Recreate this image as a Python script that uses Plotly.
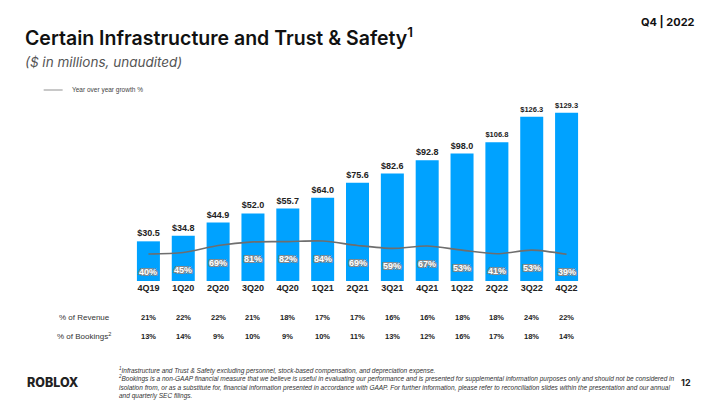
import plotly.graph_objects as go

quarters = ["4Q19", "1Q20", "2Q20", "3Q20", "4Q20", "1Q21", "2Q21", "3Q21",
            "4Q21", "1Q22", "2Q22", "3Q22", "4Q22"]
spend = [30.5, 34.8, 44.9, 52.0, 55.7, 64.0, 75.6, 82.6, 92.8, 98.0, 106.8, 126.3, 129.3]
yoy_growth = [40, 45, 69, 81, 82, 84, 69, 59, 67, 53, 41, 53, 39]
pct_revenue = [21, 22, 22, 21, 18, 17, 17, 16, 16, 18, 18, 24, 22]
pct_bookings = [13, 14, 9, 10, 9, 10, 11, 13, 12, 16, 17, 18, 14]

BLUE = "#00A2FF"
FONT = "Liberation Sans"
TITLE_FONT = "Inter"

W, H = 720, 405
L, R, T, B = 130.5, 135.6, 100, 124
plot_h = H - T - B

fig = go.Figure()
fig.add_trace(go.Bar(
    x=quarters, y=spend, marker_color=BLUE, marker_line_width=0,
    texttemplate="$%{y:.1f}", textposition="outside",
    textfont=dict(family=FONT, size=9, color="#222", weight=700),
    cliponaxis=False, showlegend=False, hoverinfo="skip",
))
fig.add_trace(go.Scatter(
    x=quarters, y=yoy_growth, yaxis="y2", mode="lines",
    line=dict(color="#6e6e6e", width=1.6, shape="spline", smoothing=0.8),
    showlegend=False, hoverinfo="skip",
))

ann = []
# growth % labels under the line
for q, g in zip(quarters, yoy_growth):
    ann.append(dict(x=q, y=g, xref="x", yref="y2", yshift=-17.5, showarrow=False,
                    text=f"{g}%",
                    font=dict(family=FONT, size=9, color="white", weight=700,
                              shadow="-1px -1px 0 #888, 1px -1px 0 #888, -1px 1px 0 #888, 1px 1px 0 #888")))

def py(p):
    return (H - B - p) / plot_h

for q, rv, bk in zip(quarters, pct_revenue, pct_bookings):
    ann.append(dict(x=q, y=py(317), xref="x", yref="paper", showarrow=False, yanchor="middle",
                    text=f"{rv}%", font=dict(family=FONT, size=7.5, color="#222", weight=700)))
    ann.append(dict(x=q, y=py(336), xref="x", yref="paper", showarrow=False, yanchor="middle",
                    text=f"{bk}%", font=dict(family=FONT, size=7.5, color="#222", weight=700)))

def ax(x):
    return (x - L) / (W - L - R)

ann.append(dict(x=ax(84), y=py(317), xref="paper", yref="paper", showarrow=False,
                xanchor="center", yanchor="middle", text="% of Revenue",
                font=dict(family=FONT, size=8, color="#333")))
ann.append(dict(x=ax(83), y=py(336), xref="paper", yref="paper", showarrow=False,
                xanchor="center", yanchor="middle", text="% of Bookings<sup>2</sup>",
                font=dict(family=FONT, size=8, color="#333")))

# titles
ann.append(dict(x=ax(22), y=py(37), xref="paper", yref="paper", showarrow=False,
                xanchor="left", yanchor="middle",
                text="Certain Infrastructure and Trust &amp; Safety<sup>1</sup>",
                font=dict(family=TITLE_FONT, size=19.5, color="#111", weight=600)))
ann.append(dict(x=ax(22), y=py(62), xref="paper", yref="paper", showarrow=False,
                xanchor="left", yanchor="middle",
                text="<i>($ in millions, unaudited)</i>",
                font=dict(family=TITLE_FONT, size=13.5, color="#555")))
ann.append(dict(x=ax(698), y=py(22), xref="paper", yref="paper", showarrow=False,
                xanchor="right", yanchor="middle", text="Q4 | 2022",
                font=dict(family=TITLE_FONT, size=11, color="#111", weight=700)))
# legend
ann.append(dict(x=ax(69), y=py(90), xref="paper", yref="paper", showarrow=False,
                xanchor="left", yanchor="middle", text="Year over year growth %",
                font=dict(family=FONT, size=6.5, color="#444")))
# logo and page
ann.append(dict(x=ax(24), y=py(382), xref="paper", yref="paper", showarrow=False,
                xanchor="left", yanchor="middle", text="ROBLOX",
                font=dict(family=TITLE_FONT, size=12.5, color="#222", weight=800)))
ann.append(dict(x=ax(694), y=py(382), xref="paper", yref="paper", showarrow=False,
                xanchor="right", yanchor="middle", text="12",
                font=dict(family=TITLE_FONT, size=9, color="#222", weight=700)))
footnote = ("<i><sup>1</sup>Infrastructure and Trust &amp; Safety excluding personnel, stock-based compensation, and depreciation expense.<br>"
            "<sup>2</sup>Bookings is a non-GAAP financial measure that we believe is useful in evaluating our performance and is presented for supplemental information purposes only and should not be considered in<br>"
            "isolation from, or as a substitute for, financial information presented in accordance with GAAP. For further information, please refer to reconciliation slides within the presentation and our annual<br>"
            "and quarterly SEC filings.</i>")
ann.append(dict(x=ax(115), y=py(364), xref="paper", yref="paper", showarrow=False,
                xanchor="left", yanchor="top", align="left", text=footnote,
                font=dict(family=FONT, size=6.5, color="#333")))

fig.update_layout(
    width=W, height=H,
    margin=dict(l=L, r=R, t=T, b=B, pad=0),
    paper_bgcolor="white", plot_bgcolor="white",
    bargap=0.34,
    xaxis=dict(type="category", range=[-0.5, 12.5], showgrid=False, showline=False,
               ticks="", tickfont=dict(family=FONT, size=9, color="#222", weight=700)),
    yaxis=dict(range=[0, 139.2], visible=False, showgrid=False),
    yaxis2=dict(range=[-51.5, 562], overlaying="y", visible=False, showgrid=False),
    annotations=ann,
    shapes=[dict(type="line", xref="paper", yref="paper", x0=ax(43), x1=ax(62),
                 y0=py(90), y1=py(90), line=dict(color="#c8c8c8", width=2))],
)

fig.write_html("out.html")
